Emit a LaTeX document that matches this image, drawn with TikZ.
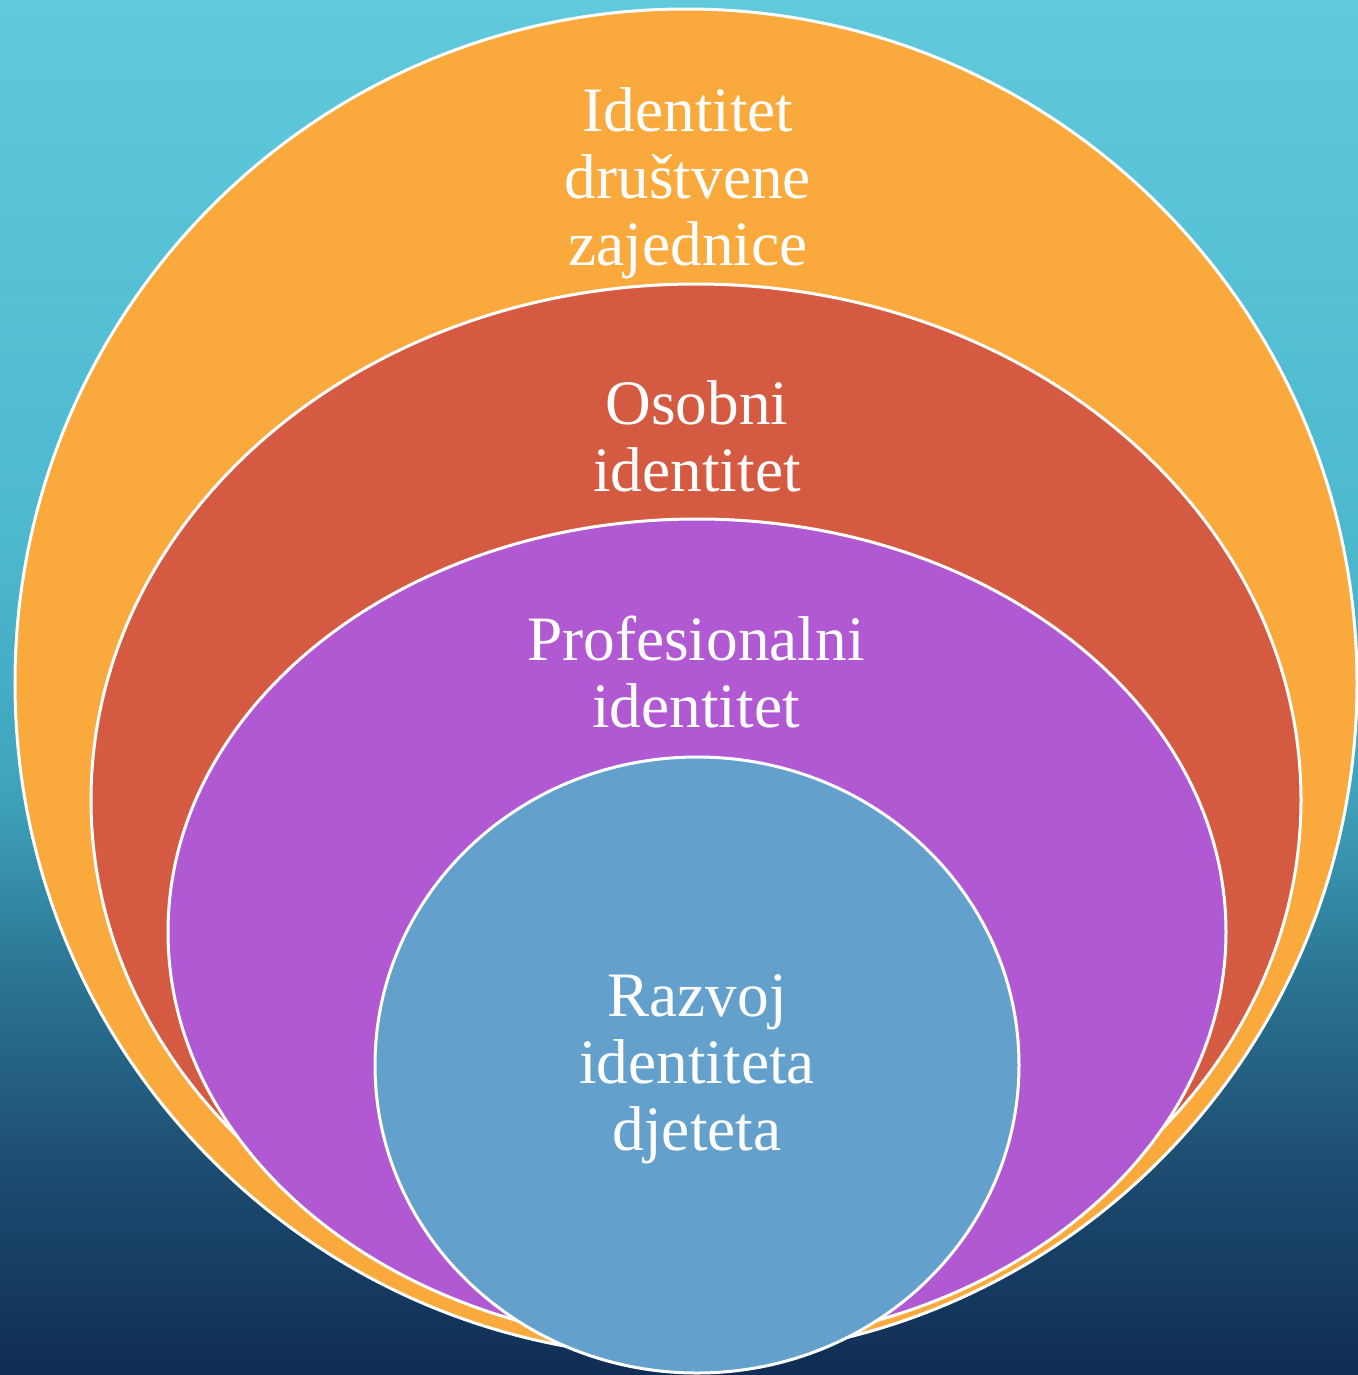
\documentclass[tikz,border=0pt]{standalone}
\usepackage{fontspec}
\setmainfont{Liberation Serif}

\definecolor{skyc}{HTML}{61C9DC}
\definecolor{cyanc}{HTML}{4CB8CE}
\definecolor{tealc}{HTML}{3FA2BD}
\definecolor{petrolc}{HTML}{2C7896}
\definecolor{deepc}{HTML}{1D4C70}
\definecolor{navyc}{HTML}{0F2C54}
\definecolor{orangec}{HTML}{FAA93C}
\definecolor{redc}{HTML}{D45B42}
\definecolor{purplec}{HTML}{B159D3}
\definecolor{bluec}{HTML}{63A1CC}

\pgfdeclareverticalshading{skyshade}{100bp}{%
  color(0bp)=(navyc); color(25bp)=(navyc); color(32.5bp)=(deepc);
  color(40bp)=(petrolc); color(46bp)=(tealc); color(55bp)=(cyanc);
  color(75bp)=(skyc); color(100bp)=(skyc)}

\tikzset{
  ring/.style={draw=white, line width=0.03cm},
  caption/.style={text=white, align=center,
    font=\fontsize{18}{19}\selectfont, inner sep=0pt}
}

\begin{document}
\begin{tikzpicture}[x=0.01cm, y=-0.01cm]
  \path[use as bounding box] (0,0) rectangle (1358,1375);
  \shade[shading=skyshade] (0,0) rectangle (1358,1375);
  % nested rings, outer to inner
  \draw[ring, fill=orangec] (686,683) ellipse [x radius=671, y radius=674];
  \draw[ring, fill=redc] (696,800) ellipse [x radius=605, y radius=516];
  \draw[ring, fill=purplec] (697,932) ellipse [x radius=529, y radius=413];
  \draw[ring, fill=bluec] (697,1065) ellipse [x radius=322, y radius=308];
  % labels
  \node[caption] (drustvo) at (688,183) {Identitet\\društvene\\zajednice};
  \node[caption] (osobni) at (697,436) {Osobni\\identitet};
  \node[caption] (profesionalni) at (696,672) {Profesionalni\\identitet};
  \node[caption] (dijete) at (697,1069) {Razvoj\\identiteta\\djeteta};
\end{tikzpicture}
\end{document}
